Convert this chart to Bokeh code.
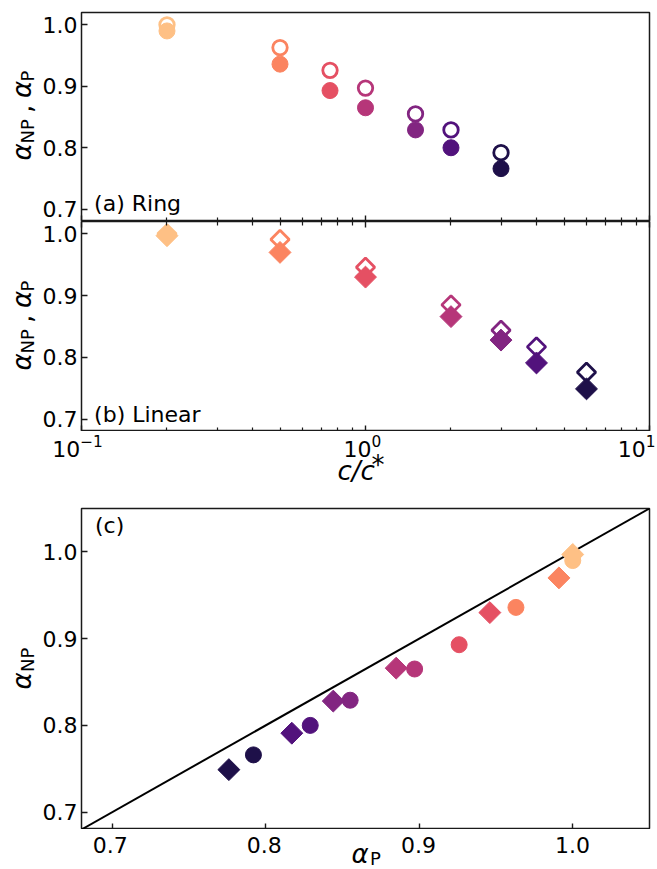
import numpy as np
from bokeh.plotting import figure
from bokeh.layouts import column, row
from bokeh.models import (Range1d, FixedTicker, PrintfTickFormatter, Label, Slope,
                          LogAxis, ColumnDataSource)
from bokeh.palettes import Magma256
from bokeh.embed import file_html
from bokeh.resources import INLINE

# ---------------- data ----------------
ring_c = [0.2, 0.5, 0.75, 1.0, 1.5, 2.0, 3.0]
ring_alpha_NP = [0.990, 0.936, 0.893, 0.865, 0.829, 0.800, 0.766]
ring_alpha_P = [1.000, 0.963, 0.926, 0.897, 0.855, 0.829, 0.792]

lin_c = [0.2, 0.5, 1.0, 2.0, 3.0, 4.0, 6.0]
lin_alpha_NP = [0.997, 0.970, 0.930, 0.866, 0.828, 0.791, 0.749]
lin_alpha_P = [1.000, 0.991, 0.946, 0.885, 0.844, 0.817, 0.776]

log_major = [0.1, 1.0, 10.0]
log_minor = [0.2, 0.3, 0.4, 0.5, 0.6, 0.7, 0.8, 0.9, 2, 3, 4, 5, 6, 7, 8, 9]
alpha_ticks = [0.7, 0.8, 0.9, 1.0]

panel_labels = ["(a) Ring", "(b) Linear", "(c)"]

# ---------------- style ----------------
FONT = "DejaVu Sans"
TICK = 22
LAB = 26
SUB = 18
SUP = 15.4
K = 0.35          # label anchor sits this many em above the glyph baseline
SPINE = "#1a1a1a"
colors = [Magma256[int(round(f * 255))] for f in np.linspace(0.87, 0.13, 7)]

ring_src = ColumnDataSource(dict(c=ring_c, anp=ring_alpha_NP, ap=ring_alpha_P, color=colors))
lin_src = ColumnDataSource(dict(c=lin_c, anp=lin_alpha_NP, ap=lin_alpha_P, color=colors))

W = 657
FRAME_L, FRAME_R = 79, 649
STRIP_W = 39


def make_fig(height, top, x_range, y_range, log):
    p = figure(width=W - STRIP_W, height=height, x_range=x_range, y_range=y_range,
               x_axis_type="log" if log else "linear", output_backend="svg",
               toolbar_location=None, min_border_left=FRAME_L - STRIP_W,
               min_border_right=W - FRAME_R, min_border_top=top, min_border_bottom=0)
    p.xgrid.visible = False
    p.ygrid.visible = False
    p.outline_line_color = SPINE
    p.outline_line_width = 1.5
    p.background_fill_color = "white"
    p.border_fill_color = "white"
    return p


def strip(width, height, x_range=None, log=False):
    p = figure(width=width, height=height,
               x_range=x_range if x_range is not None else Range1d(0, width),
               y_range=Range1d(0, height), x_axis_type="log" if log else "linear",
               x_axis_location=None, y_axis_location=None, output_backend="svg",
               toolbar_location=None, min_border=0)
    p.xgrid.visible = False
    p.ygrid.visible = False
    p.outline_line_color = None
    p.background_fill_color = "white"
    p.border_fill_color = "white"
    return p


def style_axis(ax, ticks, labels=True, minor=0):
    ax.axis_line_color = None
    ax.major_tick_in = 6
    ax.major_tick_out = 0
    ax.minor_tick_in = minor
    ax.minor_tick_out = 0
    ax.major_tick_line_color = SPINE
    ax.major_tick_line_width = 1.4
    ax.minor_tick_line_color = SPINE
    ax.minor_tick_line_width = 1.2
    ax.major_label_text_font = FONT
    ax.axis_label = None
    if labels:
        ax.major_label_text_font_size = f"{TICK}px"
        ax.major_label_text_color = "black"
        ax.major_label_standoff = 4
    else:
        ax.major_label_text_font_size = "1px"
        ax.major_label_text_color = None
        ax.major_label_standoff = 0
        ax.major_label_overrides = {t: "" for t in ticks}


def lab(p, text, x, y, size, angle=0.0, italic=False, align="left", xunits="screen", xoff=0):
    p.add_layout(Label(x=x, y=y, x_units=xunits, y_units="screen", text=text, angle=angle,
                       x_offset=xoff, text_font=FONT, text_font_size=f"{size}px",
                       text_font_style="italic" if italic else "normal",
                       text_color="black", text_align=align, text_baseline="alphabetic"))


def hlab(p, strip_bottom, text, x, baseline, size, italic=False, align="left",
         xunits="screen", xoff=0):
    """horizontal text with glyph baseline at canvas row `baseline`"""
    lab(p, text, x, strip_bottom - (baseline - K * size), size, 0.0, italic, align, xunits, xoff)


def vlab(p, text, base_x, start_from_bottom, size, italic=False):
    """text rotated 90 deg, glyph baseline at canvas column base_x"""
    lab(p, text, base_x - K * size, start_from_bottom, size, np.pi / 2, italic)


def ylabel_np_p(s):
    vlab(s, "α", 31, 61, LAB, True)
    vlab(s, "NP", 33.5, 78, SUB)
    vlab(s, ",", 31, 108.5, LAB)
    vlab(s, "α", 31, 123.5, LAB, True)
    vlab(s, "P", 33.5, 140, SUB)


# ---------------- panel (a) ----------------
pa = make_fig(221, 12, Range1d(0.1, 10), Range1d(0.68, 1.02), True)
style_axis(pa.xaxis[0], log_major, labels=False, minor=4)
pa.xaxis[0].ticker = FixedTicker(ticks=log_major, minor_ticks=log_minor)
style_axis(pa.yaxis[0], alpha_ticks)
pa.yaxis[0].ticker = FixedTicker(ticks=alpha_ticks, minor_ticks=[])
pa.yaxis[0].formatter = PrintfTickFormatter(format="%.1f")
pa.scatter("c", "ap", source=ring_src, marker="circle", size=14.5, fill_color=None,
           line_color="color", line_width=2.8)
pa.scatter("c", "anp", source=ring_src, marker="circle", size=16, fill_color="color",
           line_color="color", line_width=1)
lab(pa, panel_labels[0], 12.6, 10.3 + K * TICK, TICK)
sa = strip(STRIP_W, 221)
ylabel_np_p(sa)

# ---------------- panel (b) ----------------
pb = make_fig(210, 0, Range1d(0.1, 10), Range1d(0.68, 1.02), True)
style_axis(pb.xaxis[0], log_major, labels=False, minor=4)
pb.xaxis[0].ticker = FixedTicker(ticks=log_major, minor_ticks=log_minor)
top_ax = LogAxis(ticker=FixedTicker(ticks=log_major, minor_ticks=log_minor))
style_axis(top_ax, log_major, labels=False, minor=4)
pb.add_layout(top_ax, "above")
style_axis(pb.yaxis[0], alpha_ticks)
pb.yaxis[0].ticker = FixedTicker(ticks=alpha_ticks, minor_ticks=[])
pb.yaxis[0].formatter = PrintfTickFormatter(format="%.1f")
pb.scatter("c", "ap", source=lin_src, marker="square", angle=np.pi / 4, size=13,
           fill_color=None, line_color="color", line_width=2.8)
pb.scatter("c", "anp", source=lin_src, marker="square", angle=np.pi / 4, size=15.5,
           fill_color="color", line_color="color", line_width=1)
lab(pb, panel_labels[1], 12.6, 9.5 + K * TICK, TICK)
sb = strip(STRIP_W, 210)
ylabel_np_p(sb)

# x tick labels + x label of panel (b)  (canvas rows 431..487)
dec = (FRAME_R - FRAME_L) / 2.0
xb = strip(W, 56, Range1d(10 ** (-1 - FRAME_L / dec), 10 ** (1 + (W - FRAME_R) / dec)), log=True)
XB_BOTTOM = 487
ADV = {"1": 0.636, "0": 0.636, "−": 0.838}
for v in log_major:
    e = int(round(np.log10(v)))
    es = str(e).replace("-", "−")
    w10 = 1.272 * TICK
    wexp = sum(ADV[ch] for ch in es) * SUP
    off = (w10 - wexp) / 2 - 2
    px = FRAME_L + (np.log10(v) + 1) * dec
    overflow = px + off + wexp - (W - 2)
    if overflow > 0:
        off -= overflow
    hlab(xb, XB_BOTTOM, "10", v, 456, TICK, align="right", xunits="data", xoff=off)
    hlab(xb, XB_BOTTOM, es, v, 445.5, SUP, align="left", xunits="data", xoff=off)
hlab(xb, XB_BOTTOM, "c/c", 337, 480, LAB, italic=True)
hlab(xb, XB_BOTTOM, "*", 371, 474, LAB)

# ---------------- panel (c) ----------------
pc = make_fig(342, 21, Range1d(0.68, 1.05), Range1d(0.68, 1.05), False)
style_axis(pc.xaxis[0], alpha_ticks, labels=False)
pc.xaxis[0].ticker = FixedTicker(ticks=alpha_ticks, minor_ticks=[])
style_axis(pc.yaxis[0], alpha_ticks)
pc.yaxis[0].ticker = FixedTicker(ticks=alpha_ticks, minor_ticks=[])
pc.yaxis[0].formatter = PrintfTickFormatter(format="%.1f")
diag = Slope(gradient=1, y_intercept=0, line_color="black", line_width=2, level="underlay")
pc.add_layout(diag)
pc.scatter("ap", "anp", source=ring_src, marker="circle", size=16, fill_color="color",
           line_color="color", line_width=1)
pc.scatter("ap", "anp", source=lin_src, marker="square", angle=np.pi / 4, size=15.5,
           fill_color="color", line_color="color", line_width=1)
lab(pc, panel_labels[2], 13.5, 296 + K * TICK, TICK)
sc = strip(STRIP_W, 342)
vlab(sc, "α", 31, 140, LAB, True)
vlab(sc, "NP", 33.5, 157.5, SUB)

# x tick labels + x label of panel (c)  (canvas rows 829..869)
scale = (FRAME_R - FRAME_L) / (1.05 - 0.68)
xc = strip(W, 40, Range1d(0.68 - FRAME_L / scale, 1.05 + (W - FRAME_R) / scale))
XC_BOTTOM = 869
for v in alpha_ticks:
    hlab(xc, XC_BOTTOM, f"{v:.1f}", v, 852, TICK, align="center", xunits="data")
hlab(xc, XC_BOTTOM, "α", 351, 862.5, LAB, italic=True)
hlab(xc, XC_BOTTOM, "P", 369.5, 864.5, SUB)

layout = column(row(sa, pa, spacing=0), row(sb, pb, spacing=0), xb,
                row(sc, pc, spacing=0), xc, spacing=0)
open("out.html", "w").write(file_html(layout, INLINE))
